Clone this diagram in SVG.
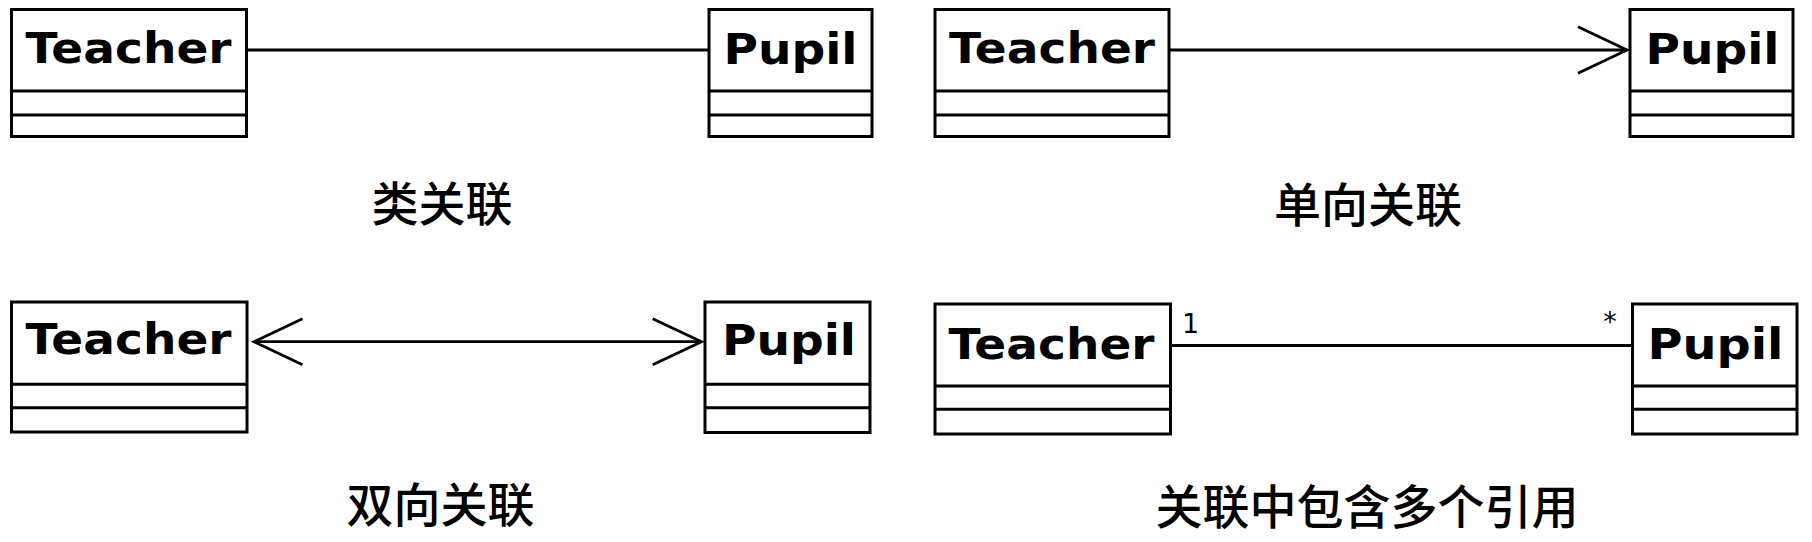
<svg xmlns="http://www.w3.org/2000/svg" width="1812" height="542" viewBox="0 0 1812 542">
<style>
.box{fill:#fff;stroke:#000;stroke-width:3}
.div{stroke:#000;stroke-width:3}
.name{font-family:"DejaVu Sans","Liberation Sans",sans-serif;font-weight:bold;font-size:43px;fill:#000;text-anchor:middle}
.edge{stroke:#000;stroke-width:2.8;fill:none}
.cap{font-family:"Noto Sans CJK SC","Noto Sans",sans-serif;font-size:47px;font-weight:500;fill:#000;text-anchor:middle}
.mult{font-family:"DejaVu Sans","Liberation Sans",sans-serif;font-size:27px;fill:#000}
</style>
<rect width="1812" height="542" fill="#fff"/>
<g id="connectors">
<line class="edge" x1="247" y1="50" x2="709" y2="50"/>
<line class="edge" x1="1169" y1="50" x2="1627" y2="50"/>
<polyline class="edge" points="1578,26.7 1627,50 1578,73.3"/>
<line class="edge" x1="254" y1="341.7" x2="701" y2="341.7"/>
<polyline class="edge" points="302.5,318.7 254,341.7 302.5,364.7"/>
<polyline class="edge" points="652.7,318.7 701.5,341.7 652.7,364.7"/>
<line class="edge" x1="1171" y1="345.5" x2="1632.5" y2="345.5"/>
<text class="mult" x="1182" y="333">1</text>
<text class="mult" x="1610" y="331" text-anchor="middle" font-size="30">*</text>
</g>
<g id="teacher1">
<rect class="box" x="11.5" y="9.5" width="235" height="127"/>
<line class="div" x1="11.5" y1="91" x2="246.5" y2="91"/>
<line class="div" x1="11.5" y1="115" x2="246.5" y2="115"/>
<text class="name" x="128.5" y="63" textLength="206" lengthAdjust="spacingAndGlyphs">Teacher</text>
</g>
<g id="pupil1">
<rect class="box" x="709" y="9.5" width="163" height="127"/>
<line class="div" x1="709" y1="91" x2="872" y2="91"/>
<line class="div" x1="709" y1="115" x2="872" y2="115"/>
<text class="name" x="790.5" y="63.5" textLength="134" lengthAdjust="spacingAndGlyphs">Pupil</text>
</g>
<g id="teacher2">
<rect class="box" x="935" y="9.5" width="234" height="127"/>
<line class="div" x1="935" y1="91" x2="1169" y2="91"/>
<line class="div" x1="935" y1="115" x2="1169" y2="115"/>
<text class="name" x="1052" y="63" textLength="206" lengthAdjust="spacingAndGlyphs">Teacher</text>
</g>
<g id="pupil2">
<rect class="box" x="1630" y="9.5" width="163" height="127"/>
<line class="div" x1="1630" y1="91" x2="1793" y2="91"/>
<line class="div" x1="1630" y1="115" x2="1793" y2="115"/>
<text class="name" x="1712.5" y="63.5" textLength="134" lengthAdjust="spacingAndGlyphs">Pupil</text>
</g>
<g id="teacher3">
<rect class="box" x="11.5" y="302" width="235.5" height="130"/>
<line class="div" x1="11.5" y1="384.3" x2="247" y2="384.3"/>
<line class="div" x1="11.5" y1="407.7" x2="247" y2="407.7"/>
<text class="name" x="128.5" y="353.5" textLength="206" lengthAdjust="spacingAndGlyphs">Teacher</text>
</g>
<g id="pupil3">
<rect class="box" x="705" y="302" width="165" height="130.5"/>
<line class="div" x1="705" y1="384.3" x2="870" y2="384.3"/>
<line class="div" x1="705" y1="407.7" x2="870" y2="407.7"/>
<text class="name" x="789" y="355" textLength="134" lengthAdjust="spacingAndGlyphs">Pupil</text>
</g>
<g id="teacher4">
<rect class="box" x="935" y="304" width="235.5" height="130"/>
<line class="div" x1="935" y1="386" x2="1170.5" y2="386"/>
<line class="div" x1="935" y1="409.3" x2="1170.5" y2="409.3"/>
<text class="name" x="1051.5" y="359" textLength="206" lengthAdjust="spacingAndGlyphs">Teacher</text>
</g>
<g id="pupil4">
<rect class="box" x="1632.5" y="304" width="164.5" height="130"/>
<line class="div" x1="1632.5" y1="386" x2="1797" y2="386"/>
<line class="div" x1="1632.5" y1="409.3" x2="1797" y2="409.3"/>
<text class="name" x="1715.5" y="359" textLength="136" lengthAdjust="spacingAndGlyphs">Pupil</text>
</g>
<g id="captions">
<text class="cap" x="442" y="221">类关联</text>
<text class="cap" x="1368" y="222">单向关联</text>
<text class="cap" x="440.5" y="522">双向关联</text>
<text class="cap" x="1367" y="524">关联中包含多个引用</text>
</g>
</svg>
